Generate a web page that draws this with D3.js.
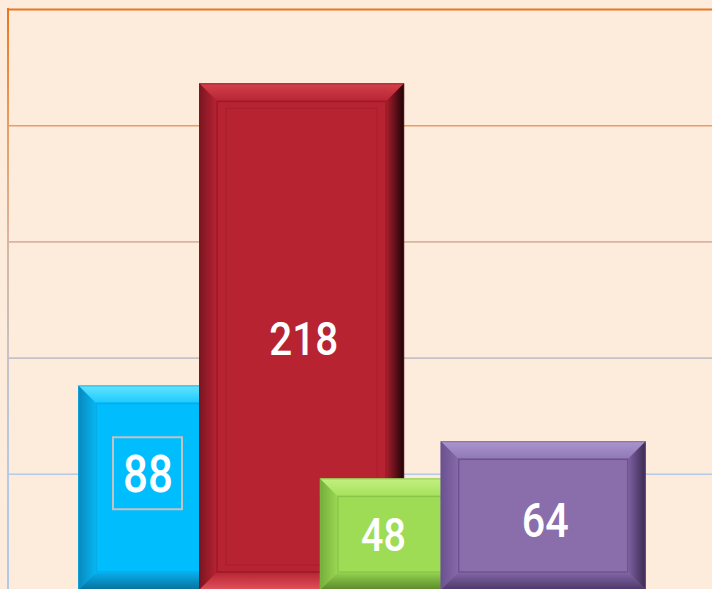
<!DOCTYPE html>
<html>
<head>
<meta charset="utf-8">
<script src="https://cdn.jsdelivr.net/npm/d3@7"></script>
<style>
  html, body { margin: 0; padding: 0; background: #fdebdc; overflow: hidden; }
  svg { display: block; }
</style>
</head>
<body>
<svg id="chart" width="712" height="589"></svg>
<script>
// ---- data ----
const categories = ["A", "B", "C", "D"];
const values = [88, 218, 48, 64];
const gridTicks = [50, 100, 150, 200, 250];

// ---- layout / style (not data) ----
const W = 712, H = 589;
const plotLeft = 8, baseline = 590, plotTop = 9;
const barWidth = 205, bevel = 17;
const palette = [
  { face: "#00bdfd", top: ["#63e4ff", "#1fcaff"], left: ["#0788bd", "#07b4f0"], right: ["#0a78a6", "#05aee8"], bottom: ["#076f9c", "#08acea"], inner: "#0ba6df", edge: "#05a2dc" },
  { face: "#b82332", top: ["#d4404c", "#b92634"], left: ["#7a1520", "#b52232"], right: ["#1e0306", "#a01c2a"], bottom: ["#e0525c", "#b92634"], inner: "#8e1a26", edge: "#7a1520" },
  { face: "#9fdc56", top: ["#c2f080", "#a7e25f"], left: ["#76ad3c", "#98d652"], right: ["#5f8c2c", "#8fcc4c"], bottom: ["#5a8828", "#92d050"], inner: "#86c046", edge: "#7ab83e" },
  { face: "#8a6dab", top: ["#ab95cf", "#917ab6"], left: ["#6a5190", "#8669a8"], right: ["#3a2a50", "#7b5f9f"], bottom: ["#4a3766", "#8064a4"], inner: "#674c8c", edge: "#6a5190" }
];
const labelFx = [0.34, 0.51, 0.31, 0.51];
const labelDy = [-12, 3, 1, 5];
const labelSize = [51, 47, 46, 48];

const svg = d3.select("#chart");
svg.append("rect").attr("width", W).attr("height", H).attr("fill", "#fdebdc");
const defs = svg.append("defs");

const y = d3.scaleLinear().domain([0, 250]).range([baseline, plotTop]);
const x = d3.scalePoint().domain(categories).range([180.8, 543.2]);

const gridColor = d3.scaleLinear()
  .domain([250, 200, 150, 100, 50])
  .range(["#e97620", "#e99d62", "#d9b5a0", "#c6c2c6", "#b5cae6"]);

const axisGrad = defs.append("linearGradient").attr("id", "axisGrad")
  .attr("x1", 0).attr("x2", 0).attr("y1", 0).attr("y2", 1);
[[0, "#e97620"], [0.2, "#e99d62"], [0.4, "#d9b5a0"], [0.6, "#c6c2c6"], [0.8, "#b5cae6"], [1, "#b0c8ea"]]
  .forEach(([o, c]) => axisGrad.append("stop").attr("offset", o).attr("stop-color", c));

const axis = d3.axisLeft(y).tickValues(gridTicks).tickSize(-(W - plotLeft)).tickFormat("");
const ag = svg.append("g").attr("transform", `translate(${plotLeft},0)`).call(axis);
ag.select(".domain").remove();
ag.selectAll(".tick line").attr("stroke", d => gridColor(d))
  .attr("stroke-width", d => d === 250 ? 2.2 : 1.6);
svg.append("rect").attr("x", plotLeft - 1).attr("y", y(250) - 1).attr("width", 2).attr("height", H - y(250) + 1)
  .attr("fill", "url(#axisGrad)");

function grad(id, c, dir) {
  const g = defs.append("linearGradient").attr("id", id);
  const m = { top: [0, 0, 0, 1], bottom: [0, 1, 0, 0], left: [0, 0, 1, 0], right: [1, 0, 0, 0] }[dir];
  g.attr("x1", m[0]).attr("y1", m[1]).attr("x2", m[2]).attr("y2", m[3]);
  g.append("stop").attr("offset", 0).attr("stop-color", c[0]);
  g.append("stop").attr("offset", 1).attr("stop-color", c[1]);
}

const data = categories.map((c, i) => ({ cat: c, value: values[i], i }));

const bars = svg.selectAll("g.bar").data(data).join("g").attr("class", "bar");
bars.each(function (d) {
  const g = d3.select(this);
  const p = palette[d.i];
  const x0 = x(d.cat) - barWidth / 2, x1 = x0 + barWidth;
  const y0 = y(d.value), y1 = y(0);
  const b = bevel;
  ["top", "left", "right", "bottom"].forEach(s => grad(`g${d.i}${s}`, p[s], s));
  g.append("rect").attr("x", x0).attr("y", y0).attr("width", barWidth).attr("height", y1 - y0).attr("fill", p.face);
  const faces = {
    top: [[x0, y0], [x1, y0], [x1 - b, y0 + b], [x0 + b, y0 + b]],
    left: [[x0, y0], [x0 + b, y0 + b], [x0 + b, y1 - b], [x0, y1]],
    right: [[x1, y0], [x1, y1], [x1 - b, y1 - b], [x1 - b, y0 + b]],
    bottom: [[x0, y1], [x0 + b, y1 - b], [x1 - b, y1 - b], [x1, y1]]
  };
  Object.entries(faces).forEach(([s, pts]) => {
    g.append("polygon").attr("points", pts.map(q => q.join(",")).join(" ")).attr("fill", `url(#g${d.i}${s})`);
  });
  g.append("rect").attr("x", x0 + b + 1).attr("y", y0 + b + 1).attr("width", barWidth - 2 * b - 2).attr("height", y1 - y0 - 2 * b - 2)
    .attr("fill", "none").attr("stroke", p.inner).attr("stroke-width", 1.5).attr("opacity", 0.8);
  if (d.i === 1) {
    g.append("rect").attr("x", x0 + b + 10).attr("y", y0 + b + 8).attr("width", barWidth - 2 * b - 20).attr("height", y1 - y0 - 2 * b - 16)
      .attr("fill", "none").attr("stroke", "#a81e2c").attr("stroke-width", 1.2);
  }
  g.append("rect").attr("x", x0 + 0.5).attr("y", y0 + 0.5).attr("width", barWidth - 1).attr("height", y1 - y0 - 1)
    .attr("fill", "none").attr("stroke", p.edge).attr("stroke-width", 1).attr("opacity", 0.6);

  const lx = x0 + barWidth * labelFx[d.i];
  const ly = (y0 + Math.min(y1, H)) / 2 + labelDy[d.i];
  if (d.i === 0) {
    g.append("rect").attr("x", lx - 35).attr("y", ly - 38).attr("width", 69).attr("height", 72)
      .attr("fill", "none").attr("stroke", "#c2c2c2").attr("stroke-width", 2);
  }
  g.append("text")
    .attr("transform", `translate(${lx},${ly}) scale(0.86,1)`)
    .attr("text-anchor", "middle").attr("dominant-baseline", "central")
    .attr("font-family", "Roboto, 'DejaVu Sans', sans-serif").attr("font-weight", 500)
    .attr("font-size", labelSize[d.i]).attr("fill", "#ffffff")
    .text(d.value);
});
</script>
</body>
</html>
